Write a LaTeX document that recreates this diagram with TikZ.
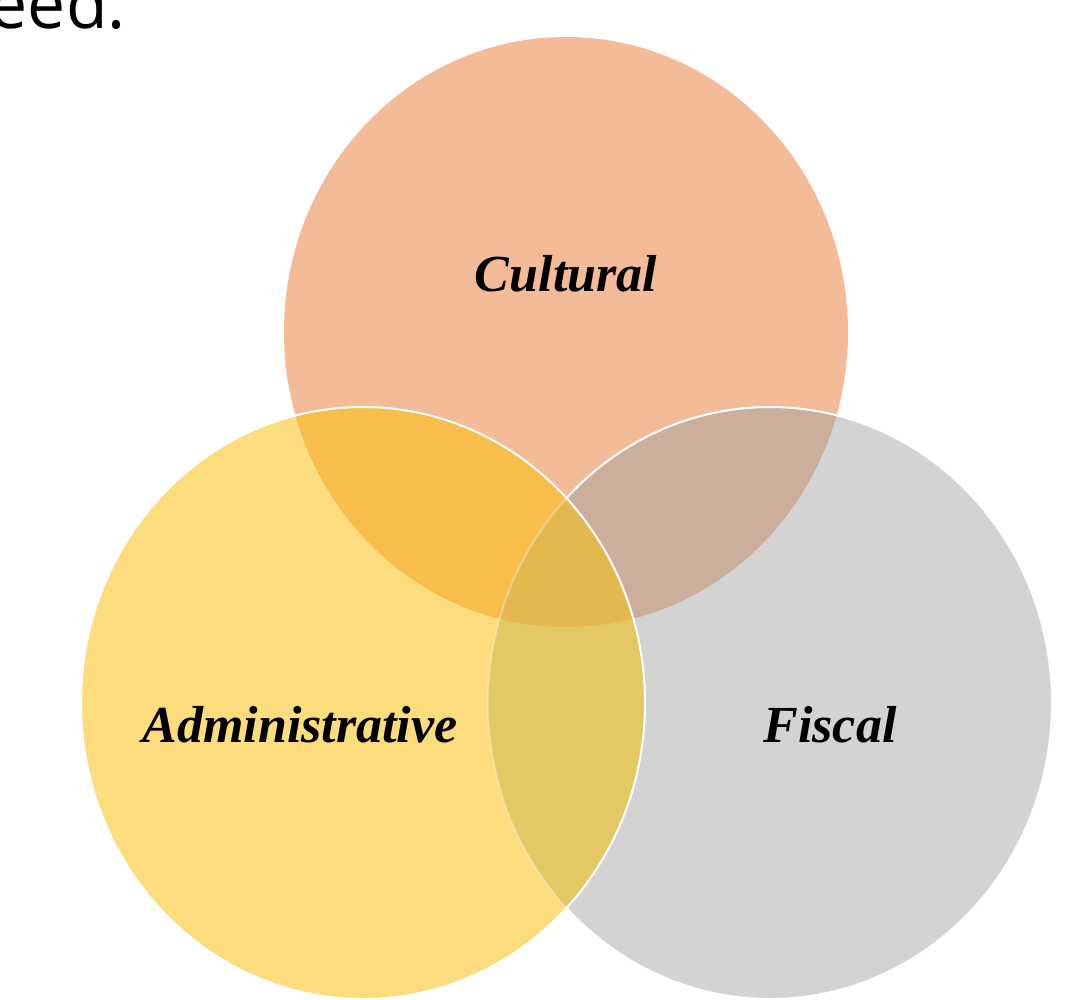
\documentclass[tikz,border=0pt]{standalone}
\usepackage{fontspec}
\newfontfamily\osans{Open Sans}
\newfontfamily\labfont{Liberation Serif}
\definecolor{culc}{RGB}{244,187,152}
\definecolor{admc}{RGB}{253,220,126}
\definecolor{fisc}{RGB}{211,211,211}
\definecolor{cac}{RGB}{248,189,74}
\definecolor{cfc}{RGB}{204,174,156}
\definecolor{afc}{RGB}{228,200,100}
\definecolor{allc}{RGB}{227,184,78}
\tikzset{
  lab/.style={font=\labfont\fontsize{52}{58}\selectfont\bfseries\itshape, text=black, inner sep=0pt, anchor=base},
  rim/.style={draw=white, line width=2pt}
}
\begin{document}
\begin{tikzpicture}[x=1pt,y=-1pt]
\useasboundingbox[fill=white] (0,0) rectangle (1091,999);
\def\Cpath{(566,332) ellipse [x radius=282pt, y radius=295pt]}
\def\Apath{(363,703) ellipse [x radius=282pt, y radius=296pt]}
\def\Fpath{(770,703) ellipse [x radius=282pt, y radius=296pt]}
% base fills
\fill[culc] \Cpath;
\fill[fisc] \Fpath;
\fill[admc] \Apath;
% pairwise overlaps
\begin{scope}\clip \Cpath; \fill[cac] \Apath; \end{scope}
\begin{scope}\clip \Cpath; \fill[cfc] \Fpath; \end{scope}
\begin{scope}\clip \Apath; \fill[afc] \Fpath; \end{scope}
\begin{scope}\clip \Cpath; \clip \Apath; \fill[allc] \Fpath; \end{scope}
% white rims: fiscal rim (faint under admin), admin rim
\begin{scope}
  \clip (0,0) rectangle (1091,999);
  \begin{scope}\clip \Apath; \draw[rim, opacity=0.3] \Fpath; \end{scope}
  \begin{scope}[even odd rule]\clip (-10,-10) rectangle (1100,1100) \Apath; \draw[rim] \Fpath; \end{scope}
  \draw[rim] \Apath;
\end{scope}
% labels
\node[lab] (cul) at (566,291) {Cultural};
\node[lab] (adm) at (300,742) {Administrative};
\node[lab] (fis) at (830,742) {Fiscal};
\node[font=\osans\fontsize{68}{76}\selectfont, inner sep=0pt, anchor=base east] (eed) at (126,28) {eed.};
\end{tikzpicture}
\end{document}
